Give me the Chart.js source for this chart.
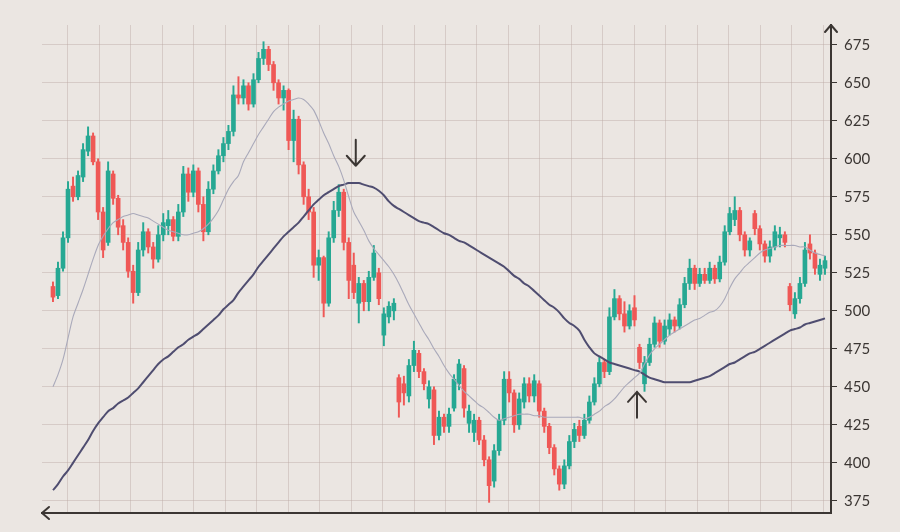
<!DOCTYPE html>
<html><head><meta charset="utf-8">
<script src="https://cdn.jsdelivr.net/npm/chart.js@4.4.0/dist/chart.umd.min.js"></script>
<style>html,body{margin:0;padding:0;background:#ebe6e2;}#wrap{width:900px;height:532px;}</style>
</head><body><div id="wrap"><canvas id="c" width="900" height="532"></canvas></div>
<script>
const open=[516,510,528,548,582,575,588,605,615,598,
565,545,590,574,556,545,526,512,540,552,
542,534,550,556,560,549,565,590,578,592,
570,552,580,592,602,610,618,642,640,648,
636,652,666,672,662,650,640,645,612,626,
596,575,565,530,535,505,548,566,578,545,
530,505,518,506,522,525,484,496,500,456,
452,444,464,472,460,442,448,418,430,424,
436,452,462,426,420,428,415,402,388,408,
428,455,446,425,440,452,444,452,434,424,
410,396,386,398,414,424,418,428,440,452,
466,460,496,508,498,490,502,476,452,466,
478,492,480,488,494,490,504,518,528,518,
524,520,528,521,532,552,560,566,550,540,
564,554,544,536,542,548,550,516,498,508,
518,544,538,524,528];
const high=[519,532,552,585,588,592,610,621,617,600,
568,598,592,576,560,548,530,545,558,554,
545,556,564,566,562,570,595,594,596,594,
575,585,596,606,614,622,648,654,652,650,
656,670,677,674,664,652,648,646,632,628,
598,580,568,540,536,552,572,583,580,548,
538,522,520,526,543,528,502,506,508,458,
457,468,480,474,462,454,450,434,432,436,
458,468,464,438,432,430,418,404,412,432,
460,460,448,446,456,456,458,454,436,426,
412,398,402,418,426,428,432,444,456,470,
468,502,514,510,506,504,510,478,470,482,
496,494,494,498,496,508,522,534,530,528,
528,532,530,536,556,568,575,568,552,548,
566,556,546,546,556,555,552,518,512,522,
545,550,540,534,536];
const low=[506,508,526,545,572,573,585,602,596,560,
535,543,570,550,540,522,505,510,536,538,
528,532,546,550,546,546,562,572,575,565,
546,550,577,590,598,606,615,636,636,632,
634,650,662,658,645,636,632,606,598,590,
570,560,522,520,496,503,545,562,540,508,
508,492,500,500,520,504,477,492,494,430,
438,440,460,456,448,436,412,415,420,420,
434,448,430,420,414,412,398,374,384,405,
425,440,420,422,436,440,440,430,420,406,
392,382,383,396,410,414,416,426,438,450,
456,458,494,494,486,488,490,462,447,464,
476,476,478,484,486,488,502,514,514,516,
518,518,518,519,530,550,556,546,536,536,
550,540,532,532,540,542,542,500,495,505,
516,534,524,520,524];
const close=[509,528,548,580,575,589,606,615,598,565,
540,592,574,555,545,526,512,540,552,542,
534,550,558,560,549,565,590,578,592,570,
552,580,592,602,610,618,642,640,648,636,
652,666,672,662,650,640,645,612,626,596,
575,565,530,535,505,548,566,578,545,520,
512,518,506,522,538,508,498,503,505,440,
446,464,474,460,452,450,418,430,424,432,
455,465,436,434,428,415,402,385,408,428,
455,446,425,442,452,444,454,434,424,410,
396,386,398,414,422,418,428,440,452,466,
460,496,508,498,490,500,494,466,466,478,
492,480,490,494,490,504,518,528,518,524,
520,528,521,532,552,564,566,550,540,546,
554,544,536,542,552,550,545,504,508,518,
540,538,528,530,533];
const ma50=[450,458,468,482,496,505,514,524,534,543,
549,554,558,560,562,563,564,563,562,561,
559,557,555,553,552,551,550,550,551,552,
554,557,561,566,573,580,585,589,598,604,
610,616,621,626,631,634,636,638,639,640,
639,636,632,625,617,610,602,595,586,575,
565,559,553,546,541,537,533,529,524,518,
511,504,498,492,486,481,475,470,464,459,
455,451,447,444,441,438,436,433,430,428,
429,430,431,432,432,432,431,431,430,430,
430,430,430,430,430,430,429,430,432,434,
437,439,442,446,450,453,456,459,465,471,
475,478,481,484,486,488,490,492,494,495,
497,499,500,503,508,515,521,525,529,532,
535,538,540,541,542,543,543,543,543,542,
542,540,538,537,536];
const ma200=[382,386,391,395,400,405,410,415,421,426,
430,434,436,439,441,443,446,449,453,457,
461,465,468,470,473,476,478,481,483,485,
488,491,494,497,501,504,507,512,516,520,
524,529,533,537,541,545,549,552,555,558,
562,566,570,573,576,578,580,582,583,584,
584,584,583,582,581,579,576,572,569,567,
565,563,561,559,558,557,555,553,551,550,
548,546,545,543,541,539,537,535,533,531,
529,526,523,521,518,516,513,510,507,504,
502,499,495,492,490,487,481,476,472,470,
468,466,465,464,463,462,461,460,458,456,
455,454,453,453,453,453,453,453,454,455,
456,457,459,461,463,465,466,468,470,472,
473,475,477,479,481,483,485,487,488,489,
491,492,493,494,495];
const yTicks=[375,400,425,450,475,500,525,550,575,600,625,650,675];
const signals=[{at:60.4,from:612.5,to:595.4},{at:116.5,from:429.6,to:446.7}];

const UP='#26a893', DOWN='#ef5856', INK='#3b3633', GRID='rgba(186,166,163,0.42)';
const idx=close.map((_,i)=>i);
const colors=idx.map(i=>close[i]>=open[i]?UP:DOWN);
const wicks=idx.map(i=>({x:i,y:[low[i],high[i]]}));
const bodies=idx.map(i=>({x:i,y:[Math.min(open[i],close[i]),Math.max(open[i],close[i])]}));
const ma50Pts=idx.map(i=>({x:i,y:ma50[i]}));
const ma200Pts=idx.map(i=>({x:i,y:ma200[i]}));

const deco={
  id:'deco',
  beforeDraw(chart){const c=chart.ctx;c.save();c.fillStyle='#ebe6e2';c.fillRect(0,0,chart.width,chart.height);c.restore();},
  afterDraw(chart){
    const c=chart.ctx,a=chart.chartArea,x=chart.scales.x,y=chart.scales.y;
    c.save();c.strokeStyle=INK;c.lineWidth=2;c.lineCap='round';c.lineJoin='round';
    c.beginPath();c.moveTo(a.right-6,a.top+7);c.lineTo(a.right,a.top);c.lineTo(a.right+6,a.top+7);c.stroke();
    c.beginPath();c.moveTo(a.left+7,a.bottom-6);c.lineTo(a.left,a.bottom);c.lineTo(a.left+7,a.bottom+6);c.stroke();
    signals.forEach(s=>{
      const px=x.getPixelForValue(s.at),y1=y.getPixelForValue(s.from),y2=y.getPixelForValue(s.to);
      const d=y2>y1?-1:1;
      c.beginPath();c.moveTo(px,y1);c.lineTo(px,y2);
      c.moveTo(px-9,y2+d*10);c.lineTo(px,y2);c.lineTo(px+9,y2+d*10);c.stroke();
    });
    c.restore();
  }
};

function build(){
new Chart(document.getElementById('c'),{
  type:'bar',
  data:{datasets:[
    {type:'line',label:'MA50',data:ma50Pts,borderColor:'#a9a9ba',borderWidth:1.1,pointRadius:0,tension:0.3,order:0},
    {type:'line',label:'MA200',data:ma200Pts,borderColor:'#4f4d70',borderWidth:2,pointRadius:0,tension:0.3,order:0},
    {label:'body',data:bodies,backgroundColor:colors,barThickness:4,grouped:false,order:1},
    {label:'wick',data:wicks,backgroundColor:colors,barThickness:1.3,grouped:false,order:2}
  ]},
  options:{
    responsive:false,animation:false,devicePixelRatio:1,
    layout:{padding:{left:42,top:25,right:0,bottom:0}},
    plugins:{legend:{display:false},tooltip:{enabled:false}},
    scales:{
      x:{type:'linear',min:-2.19,max:155.2,offset:false,
        afterBuildTicks:s=>{const t=[];for(let k=0;k<25;k++)t.push({value:2.99+6.276*k});s.ticks=t;},
        ticks:{display:false},
        grid:{color:GRID,lineWidth:1,drawTicks:false,offset:false},
        border:{color:INK,width:2},
        afterFit:s=>{s.height=19;}},
      y:{position:'right',min:367,max:688,
        afterBuildTicks:s=>{s.ticks=yTicks.map(v=>({value:v}));},
        ticks:{color:INK,font:{family:'Lato',size:15},padding:7},
        grid:{color:GRID,lineWidth:1,tickColor:INK,tickLength:6},
        border:{color:INK,width:2},
        afterFit:s=>{s.width=69;}}
    }
  },
  plugins:[deco]
});
}
if(document.fonts&&document.fonts.load){document.fonts.load('15px Lato').then(build,build);}else build();
</script></body></html>
